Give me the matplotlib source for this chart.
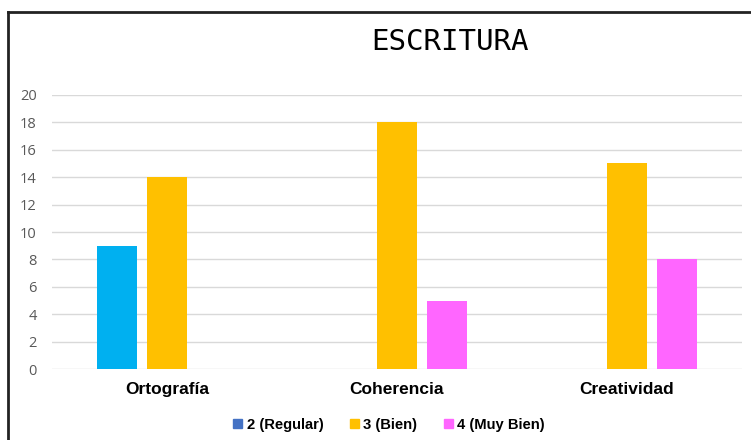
import matplotlib.pyplot as plt
import numpy as np
from matplotlib.patches import Patch
from matplotlib.lines import Line2D

categories = ['Ortografía', 'Coherencia', 'Creatividad']
series_names = ['2 (Regular)', '3 (Bien)', '4 (Muy Bien)']
regular = [9, 0, 0]
bien = [14, 18, 15]
muy_bien = [0, 5, 8]
yticks = list(range(0, 21, 2))

bar_colors = ['#00B0F0', '#FFC000', '#FF66FF']
legend_colors = ['#4472C4', '#FFC000', '#FF66FF']

fig = plt.figure(figsize=(7.51, 4.40), dpi=100)
ax = fig.add_axes([52 / 751, 1 - 369 / 440, 690 / 751, 274 / 440])

x = np.arange(len(categories))
width = 0.174
step = 0.217
for i, vals in enumerate([regular, bien, muy_bien]):
    ax.bar(x + (i - 1) * step, vals, width, color=bar_colors[i], zorder=3)

ax.set_xlim(-0.5, 2.5)
ax.set_ylim(0, 20)
ax.set_yticks(yticks)
ax.set_yticklabels([str(t) for t in yticks], color='#595959', fontsize=10.5,
                   family='Open Sans')
ax.set_xticks(x)
ax.set_xticklabels(categories, fontsize=12.5, fontweight='bold', family='Liberation Sans')
ax.tick_params(axis='both', length=0)
ax.tick_params(axis='y', pad=11)
ax.tick_params(axis='x', pad=9)
ax.grid(axis='y', color='#D9D9D9', linewidth=1, zorder=0)
for s in ax.spines.values():
    s.set_visible(False)

fig.text(450 / 751, 1 - 42 / 440, 'ESCRITURA', ha='center', va='center',
         fontsize=21, family='DejaVu Sans Mono')

handles = [Patch(color=c) for c in legend_colors]
leg = fig.legend(handles, series_names, loc='center', ncol=3,
                 bbox_to_anchor=(389 / 751, 1 - 425 / 440), frameon=False,
                 handlelength=0.6, handleheight=0.6, handletextpad=0.3,
                 columnspacing=1.8, prop={'family': 'Liberation Sans', 'weight': 'bold', 'size': 10.6})

# chart frame (partially cropped)
fig.add_artist(Line2D([8 / 751, 8 / 751], [0, 1 - 12 / 440], color='#222222', linewidth=2))
fig.add_artist(Line2D([8 / 751, 1], [1 - 12 / 440, 1 - 12 / 440], color='#222222', linewidth=2))

fig.savefig('out.png', dpi=100)
